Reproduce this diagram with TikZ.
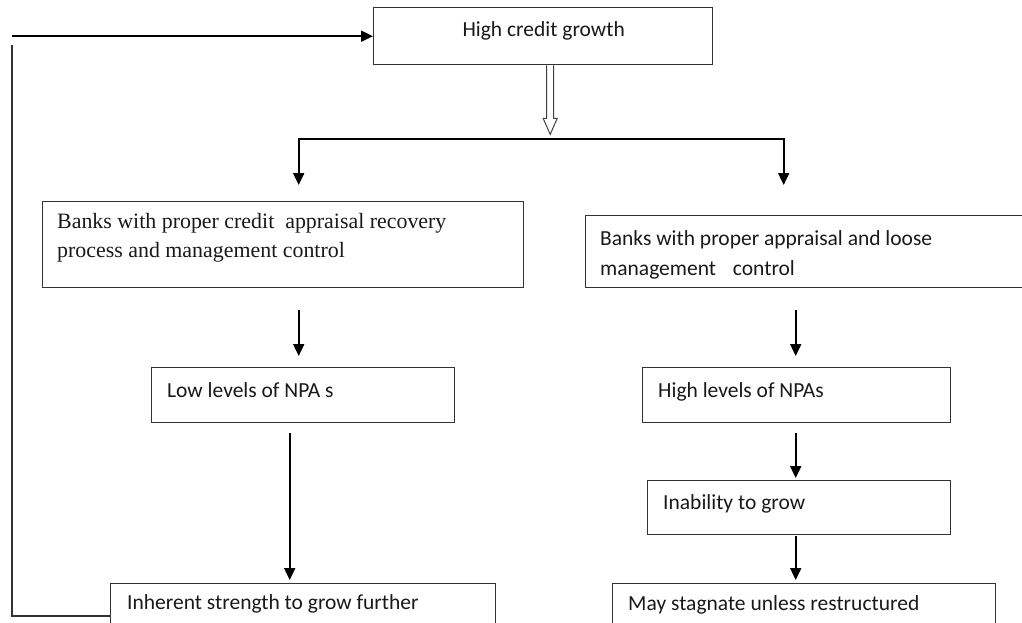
\documentclass[tikz,border=0pt]{standalone}
\usepackage{fontspec}
\setmainfont{Carlito}
\newfontfamily\tnr{Liberation Serif}
\usetikzlibrary{arrows.meta,calc}
\begin{document}
\begin{tikzpicture}[x=1pt,y=-1pt,
  box/.style={draw=black!80, line width=1.4pt, anchor=north west, inner sep=0pt},
  txt/.style={anchor=base west, inner sep=0pt, font=\fontsize{21.5}{29.5}\selectfont, text=black!90},
  arr/.style={line width=1.9pt, -{Triangle[length=12pt,width=11pt]}},
  ln/.style={line width=1.4pt, draw=black!80}]
\useasboundingbox (0,0) rectangle (1022,622);
\begin{scope}
\clip (0,0) rectangle (1022,622);
% boxes
\node[box, minimum width=339, minimum height=57] (top) at (373,7) {};
\node[box, minimum width=481, minimum height=86] (L1) at (42,201) {};
\node[box, minimum width=480, minimum height=72] (R1) at (585,215) {};
\node[box, minimum width=303, minimum height=55] (L2) at (151,367) {};
\node[box, minimum width=308, minimum height=55] (R2) at (642,367) {};
\node[box, minimum width=303, minimum height=54] (R3) at (647,480) {};
\node[box, minimum width=385, minimum height=60] (L3) at (110,583) {};
\node[box, minimum width=383, minimum height=60] (R4) at (612,583) {};
% texts
\node[txt, anchor=base] (tTop) at ($(top.north)+(0.5,29)$) {High credit growth};
\node[txt, font=\fontsize{21.9}{29.5}\selectfont\tnr] (tL1a) at ($(L1.north west)+(15,27)$) {Banks with proper credit~ appraisal recovery};
\node[txt, font=\fontsize{21.9}{29.5}\selectfont\tnr] (tL1b) at ($(L1.north west)+(15,56)$) {process and management control};
\node[txt] (tR1a) at ($(R1.north west)+(15,30)$) {Banks with proper appraisal and loose};
\node[txt] (tR1b) at ($(R1.north west)+(15,60)$) {management\hspace{12pt} control};
\node[txt] (tL2) at ($(L2.north west)+(16,30)$) {Low levels of NPA s};
\node[txt] (tR2) at ($(R2.north west)+(16,30)$) {High levels of NPAs};
\node[txt] (tR3) at ($(R3.north west)+(16,29)$) {Inability to grow};
\node[txt] (tL3) at ($(L3.north west)+(17,26)$) {Inherent strength to grow further};
\node[txt] (tR4) at ($(R4.north west)+(16,27)$) {May stagnate unless restructured};
% hollow arrow
\begin{scope}[shift={(top.south)}]
\draw[line width=1pt, draw=black!75, fill=white]
  (3.5,0) -- (3.5,53) -- (0,53) -- (7,69) -- (14,53) -- (10.5,53) -- (10.5,0);
\end{scope}
\coordinate (split) at ($(top.south)+(7,74)$);
% split arrows
\draw[arr] (split) -| ($(L1.north)+(15.5,-16)$);
\draw[arr] (split) -| ($(R1.north)+(-42,-30)$);
% chain arrows
\draw[arr] ($(L1.south)+(15.5,22)$) -- ($(L2.north)+(-4.5,-11)$);
\draw[arr] ($(R1.south)+(-30,22)$) -- ($(R2.north)+(-1,-11)$);
\draw[arr] ($(L2.south)+(-13.5,10)$) -- ($(L3.north)+(-13.5,-3)$);
\draw[arr] ($(R2.south)+(-1,10)$) -- ($(R3.north)+(-3.5,-2)$);
\draw[arr] ($(R3.south)+(-3.5,1)$) -- ($(R4.north)+(-8.5,-3)$);
% feedback
\draw[ln] ($(L3.north west)+(0,33)$) -- ++(-98,0) -- ++(0,-571);
\draw[arr] ($(top.west)+(-361,0)$) -- (top.west);
\end{scope}
\end{tikzpicture}
\end{document}
